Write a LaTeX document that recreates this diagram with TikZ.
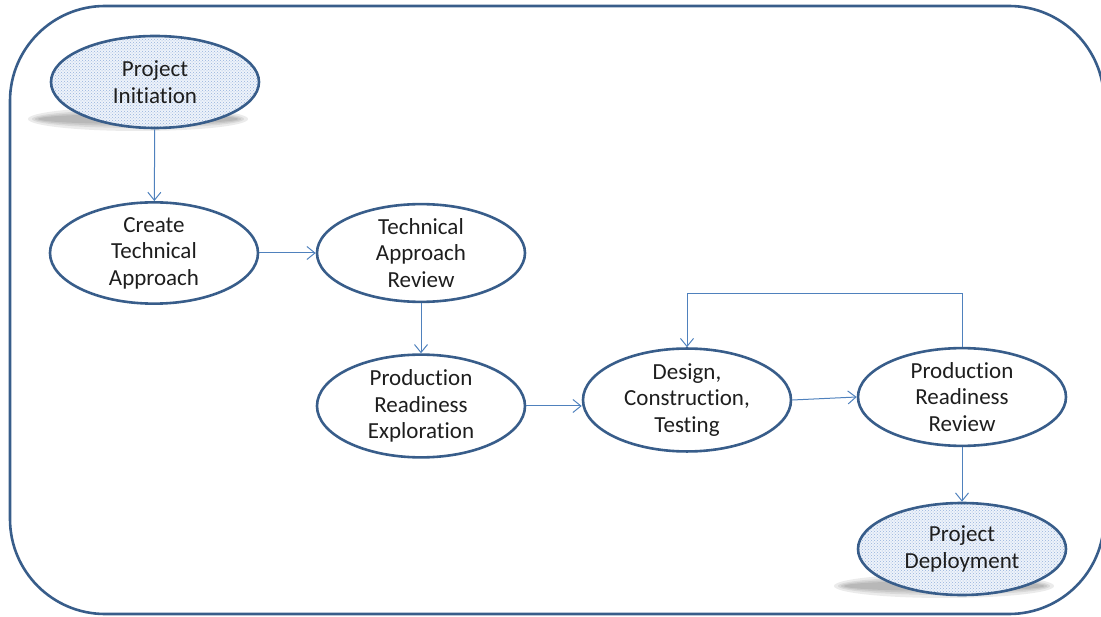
\documentclass[tikz,border=0pt]{standalone}
\usepackage{fontspec}
\setmainfont{Carlito}[Ligatures=NoCommon]
\usetikzlibrary{arrows.meta,shapes.geometric,patterns}
\definecolor{edgec}{RGB}{56,93,138}
\definecolor{arrc}{RGB}{79,129,189}
\definecolor{dotc}{RGB}{150,178,220}
\definecolor{dotbg}{RGB}{238,243,250}
\definecolor{txtc}{RGB}{30,30,30}
\begin{document}
\begin{tikzpicture}[x=1pt,y=-1pt,
  stage/.style={ellipse, draw=edgec, line width=2.6pt, minimum width=208pt, minimum height=92pt,
    inner sep=0pt, align=center, font=\fontsize{23}{26.5}\selectfont, text=txtc, fill=white},
  dotstage/.style={stage, preaction={fill=dotbg}, pattern=crosshatch dots, pattern color=dotc},
  arr/.style={draw=arrc, line width=1pt, -{Straight Barb[length=8pt,width=13pt]}},
  shade/.style={fill=black, opacity=0.08}
]
\useasboundingbox (0,0) rectangle (1101,617);
\draw[edgec, line width=2.6pt, rounded corners=95pt] (10,6) rectangle (1104,614);

% shadows
\foreach \a/\b in {10/12,6/9,3/7,0/5}{
  \fill[shade] (138,119) ellipse [x radius={100+\a}, y radius={\b}];
  \fill[shade] (944,586) ellipse [x radius={100+\a}, y radius={\b}];
}

\node[dotstage] (pi)  at (155,82)  {Project\\Initiation};
\node[stage]    (cta) at (154,253) {Create\\Technical\\Approach};
\node[stage]    (tar) at (421,253) {Technical\\Approach\\Review};
\node[stage]    (pre) at (421,406) {Production\\Readiness\\Exploration};
\node[stage]    (dct) at (687,400) {Design,\\Construction,\\Testing};
\node[stage]    (prr) at (962,397) {Production\\Readiness\\Review};
\node[dotstage] (pd)  at (962,549) {Project\\Deployment};

\draw[arr] (pi) -- (cta);
\draw[arr] (cta) -- (tar);
\draw[arr] (tar) -- (pre);
\draw[arr] (pre.east) -- (pre.east -| dct.west);
\draw[arr] (dct.east) -- (prr.west);
\draw[arr] (prr.north) -- ++(0,-53) -| (dct.north);
\draw[arr] (prr) -- (pd);
\end{tikzpicture}
\end{document}
